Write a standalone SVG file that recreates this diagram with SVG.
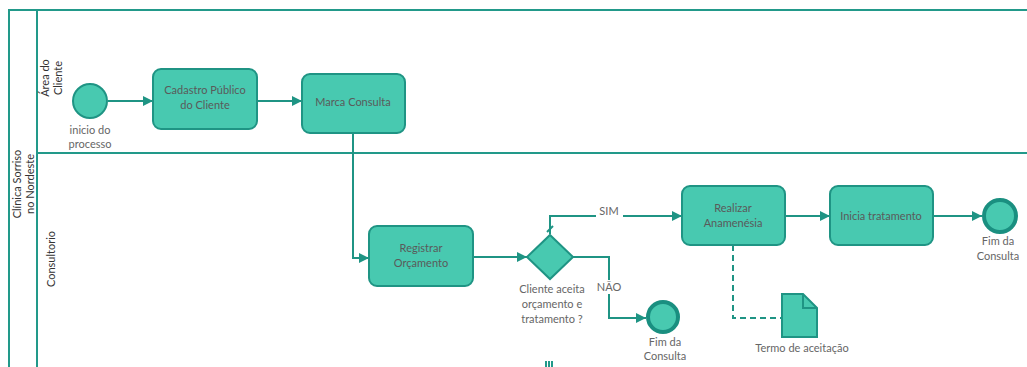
<svg xmlns="http://www.w3.org/2000/svg" width="1027" height="367" viewBox="0 0 1027 367">
<style>
.pool{fill:none;stroke:#22998a;stroke-width:2}
.task{fill:#48c9b0;stroke:#1f9484;stroke-width:2}
.ev{fill:#48c9b0;stroke:#1f9484;stroke-width:2}
.end{fill:#48c9b0;stroke:#1a8f80;stroke-width:4}
.flow{fill:none;stroke:#1f9484;stroke-width:2}
.assoc{fill:none;stroke:#1f9484;stroke-width:2;stroke-dasharray:6 4}
.t{font-family:Lato,"Liberation Sans",sans-serif;font-size:11px;fill:#5a5a5a;text-anchor:middle}
.tl{font-family:Lato,"Liberation Sans",sans-serif;font-size:11px;fill:#666;text-anchor:middle}
.lab{font-family:Lato,"Liberation Sans",sans-serif;font-size:11px;fill:#333;text-anchor:middle}
</style>
<defs>
<marker id="arr" viewBox="0 0 10 10" refX="10" refY="5" markerWidth="10" markerHeight="10" markerUnits="userSpaceOnUse" orient="auto">
<path d="M0,0 L10,5 L0,10 z" fill="#1f9484"/>
</marker>
</defs>
<rect width="1027" height="367" fill="#fff"/>
<g id="pool">
<rect class="pool" x="9" y="10" width="1030" height="370"/>
<line class="pool" x1="37" y1="10" x2="37" y2="367"/>
<line class="pool" x1="37" y1="153" x2="1027" y2="153"/>
<text class="lab" transform="translate(17,184) rotate(-90)" y="4">Clínica Sorriso</text>
<text class="lab" transform="translate(30,184) rotate(-90)" y="4">no Nordeste</text>
<text class="lab" transform="translate(45,78) rotate(-90)" y="4">Área do</text>
<text class="lab" transform="translate(58,78) rotate(-90)" y="4">Cliente</text>
<text class="lab" transform="translate(51,259) rotate(-90)" y="4">Consultorio</text>
<rect x="545" y="361" width="2" height="6" fill="#22998a"/>
<rect x="548" y="361" width="2" height="6" fill="#22998a"/>
<rect x="551" y="361" width="2" height="6" fill="#22998a"/>
</g>
<g id="connectors">
<line class="flow" x1="108" y1="101" x2="153" y2="101" marker-end="url(#arr)"/>
<line class="flow" x1="257" y1="101" x2="302" y2="101" marker-end="url(#arr)"/>
<polyline class="flow" points="353,133 353,258 369,258" marker-end="url(#arr)"/>
<line class="flow" x1="473" y1="257" x2="527" y2="257" marker-end="url(#arr)"/>
<polyline class="flow" points="550,234 550,216 682,216" marker-end="url(#arr)"/>
<line class="flow" x1="547" y1="232" x2="553" y2="226"/>
<polyline class="flow" points="573,257 609,257 609,318 646,318" marker-end="url(#arr)"/>
<line class="flow" x1="785" y1="216" x2="830" y2="216" marker-end="url(#arr)"/>
<line class="flow" x1="933" y1="216" x2="982" y2="216" marker-end="url(#arr)"/>
<polyline class="assoc" points="733,245 733,318 782,318"/>
<rect x="596" y="204" width="27" height="14" fill="#fff"/>
<text class="tl" x="609" y="215">SIM</text>
<rect x="594" y="280" width="30" height="14" fill="#fff"/>
<text class="tl" x="609" y="291">NÃO</text>
</g>
<g id="start">
<circle class="ev" cx="90" cy="101" r="17"/>
<text class="tl" x="90" y="134">inicio do</text>
<text class="tl" x="90" y="148">processo</text>
</g>
<g id="cadastro">
<rect class="task" x="153" y="69" width="104" height="60" rx="8"/>
<text class="t" x="205" y="94">Cadastro Público</text>
<text class="t" x="205" y="109">do Cliente</text>
</g>
<g id="marca">
<rect class="task" x="302" y="74" width="103" height="59" rx="8"/>
<text class="t" x="353" y="106">Marca Consulta</text>
</g>
<g id="registrar">
<rect class="task" x="369" y="226" width="104" height="60" rx="8"/>
<text class="t" x="421" y="252">Registrar</text>
<text class="t" x="421" y="267">Orçamento</text>
</g>
<g id="gateway">
<polygon class="ev" points="550,235 573,257 550,279 527,257"/>
<text class="tl" x="552" y="293">Cliente aceita</text>
<text class="tl" x="552" y="308">orçamento e</text>
<text class="tl" x="552" y="323">tratamento ?</text>
</g>
<g id="fim1">
<circle class="end" cx="663" cy="317" r="15"/>
<text class="tl" x="665" y="346">Fim da</text>
<text class="tl" x="665" y="360">Consulta</text>
</g>
<g id="realizar">
<rect class="task" x="682" y="186" width="103" height="59" rx="8"/>
<text class="t" x="733" y="212">Realizar</text>
<text class="t" x="733" y="227">Anamenésia</text>
</g>
<g id="inicia">
<rect class="task" x="830" y="186" width="103" height="59" rx="8"/>
<text class="t" x="881" y="220">Inicia tratamento</text>
</g>
<g id="fim2">
<circle class="end" cx="1000" cy="216" r="16"/>
<text class="tl" x="998" y="245">Fim da</text>
<text class="tl" x="998" y="260">Consulta</text>
</g>
<g id="termo">
<path class="ev" d="M782,294 L803,294 L817,308 L817,337 L782,337 Z"/>
<path d="M803,294 L803,308 L817,308" fill="none" stroke="#1f9484" stroke-width="2"/>
<text class="tl" x="802" y="352">Termo de aceitação</text>
</g>
</svg>
